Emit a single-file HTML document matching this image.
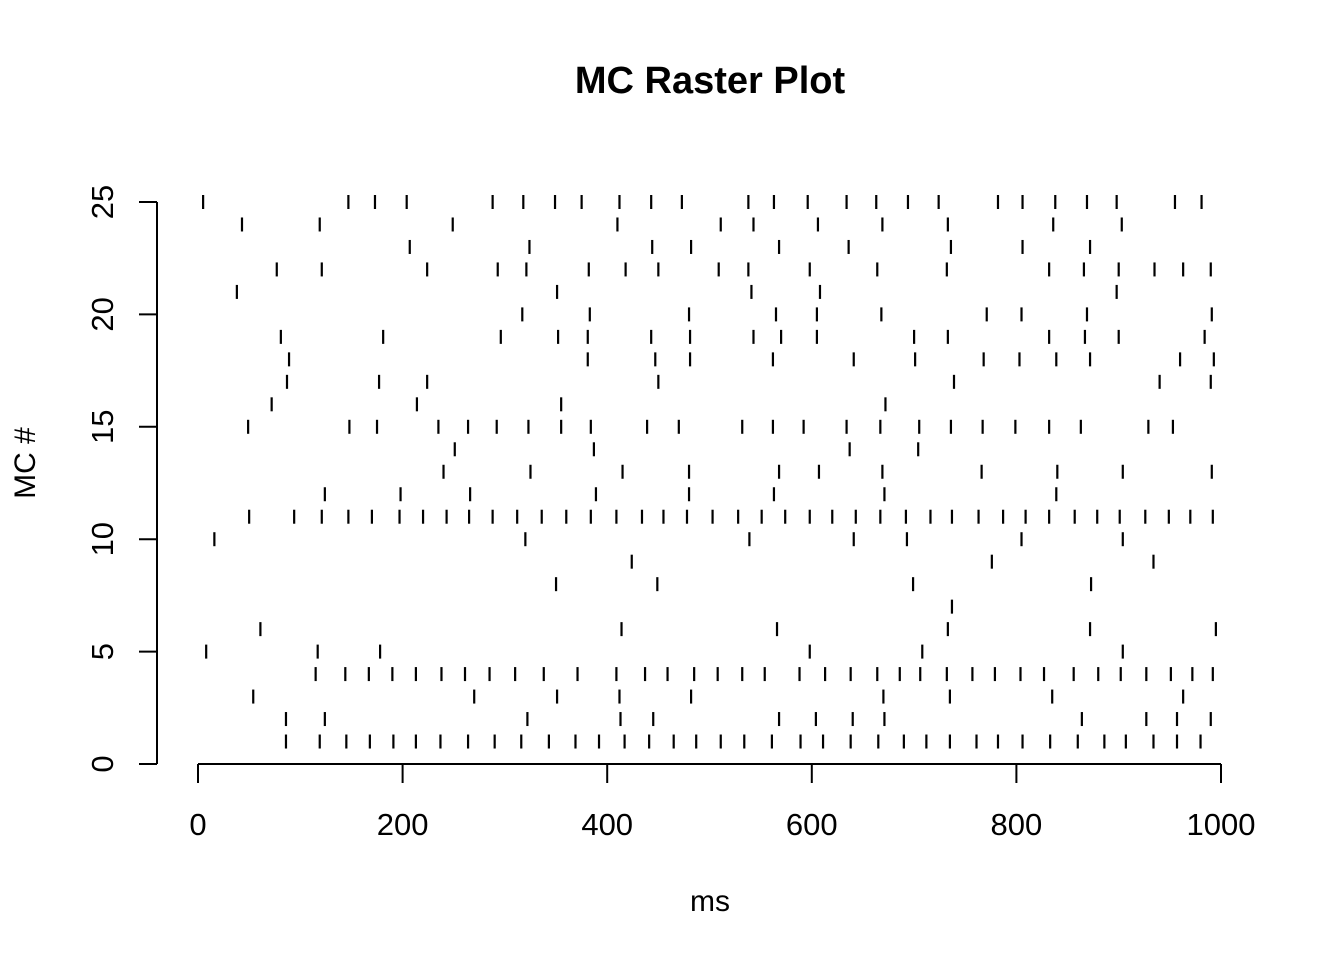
<!DOCTYPE html>
<html><head><meta charset="utf-8"><style>
body{margin:0;background:#fff}
svg{display:block;font-family:"Liberation Sans",Arial,sans-serif}
</style></head><body>
<svg id="chart" width="1344" height="960" viewBox="0 0 1344 960">
<text x="710" y="93" font-size="38" font-weight="bold" text-anchor="middle">MC Raster Plot</text>
<text x="710" y="911" font-size="30" text-anchor="middle">ms</text>
<text transform="translate(35,463) rotate(-90)" font-size="30" text-anchor="middle">MC #</text>
<g id="axes"></g>
<g id="marks"></g>
</svg>
<script>
const xTicks=[0,200,400,600,800,1000];
const yTicks=[0,5,10,15,20,25];
const spikes={
1:[86,119,145,168,191,213,237,264,290,316,343,369,392,417,441,465,487,511,534,561,589,611,638,665,690,712,735,761,782,806,833,860,886,907,934,957,980],
2:[86,124,322,413,445,568,604,640,671,864,927,957,990],
3:[54,270,351,412,482,670,735,835,963],
4:[115,144,167,190,213,238,261,285,310,338,371,409,437,459,485,508,532,554,588,613,638,664,686,706,732,757,779,804,827,856,880,902,927,951,972,992],
5:[8,117,178,598,708,904],
6:[61,414,566,733,872,995],
7:[737],
8:[350,449,699,873],
9:[424,776,934],
10:[16,320,539,641,693,805,904],
11:[50,94,121,147,170,197,220,243,265,288,312,336,360,384,409,434,455,478,503,528,551,574,598,620,643,667,692,716,737,763,787,809,832,857,879,901,926,949,970,992],
12:[124,198,266,389,480,563,671,839],
13:[240,325,415,480,568,607,669,766,840,904,991],
14:[251,387,637,704],
15:[49,148,175,235,264,292,323,355,384,439,470,532,562,592,634,667,705,736,767,799,832,863,929,953],
16:[72,214,355,672],
17:[87,177,224,450,739,940,990],
18:[89,381,447,481,562,641,701,768,803,839,872,960,993],
19:[81,181,296,352,381,443,481,543,570,605,700,733,832,867,900,984],
20:[317,383,480,565,605,668,771,805,869,991],
21:[38,351,541,608,898],
22:[77,121,224,293,321,382,418,450,509,538,598,664,732,832,866,900,935,963,990],
23:[207,324,444,482,568,636,736,806,872],
24:[43,119,249,410,511,543,606,669,733,836,903],
25:[5,147,173,204,288,318,349,375,412,443,473,538,563,596,634,663,694,724,782,806,838,869,898,955,981]
};
const NS="http://www.w3.org/2000/svg";
const X=t=>198+t*1.023;
const Y=v=>764-v*22.48;
function mk(tag,attrs,parent){const e=document.createElementNS(NS,tag);for(const k in attrs)e.setAttribute(k,attrs[k]);parent.appendChild(e);return e;}
const axes=document.getElementById('axes');
const marks=document.getElementById('marks');
let l=mk('line',{x1:X(0),x2:X(1000),y1:764,y2:764,stroke:'#000','stroke-width':2},axes);


xTicks.forEach(t=>{
 const tk=mk('line',{x1:X(t),x2:X(t),y1:764,y2:783,stroke:'#000','stroke-width':2},axes);
 
 
 const tx=mk('text',{x:X(t),y:835,'font-size':31,'text-anchor':'middle'},axes);
 tx.textContent=t;
 
 
});
l=mk('line',{x1:157,x2:157,y1:Y(0),y2:Y(25),stroke:'#000','stroke-width':2},axes);


yTicks.forEach(v=>{
 const tk=mk('line',{x1:139,x2:157,y1:Y(v),y2:Y(v),stroke:'#000','stroke-width':2},axes);
 
 
 const tx=mk('text',{transform:`translate(113,${Y(v)}) rotate(-90)`,'font-size':31,'text-anchor':'middle'},axes);
 tx.textContent=v;
 
 
});
for(const row in spikes){
 spikes[row].forEach(t=>{
  const m=mk('line',{x1:X(t),x2:X(t),y1:Y(+row)-7,y2:Y(+row)+7,stroke:'#000','stroke-width':2.2},marks);
  
  
 });
}
</script>
</body></html>
